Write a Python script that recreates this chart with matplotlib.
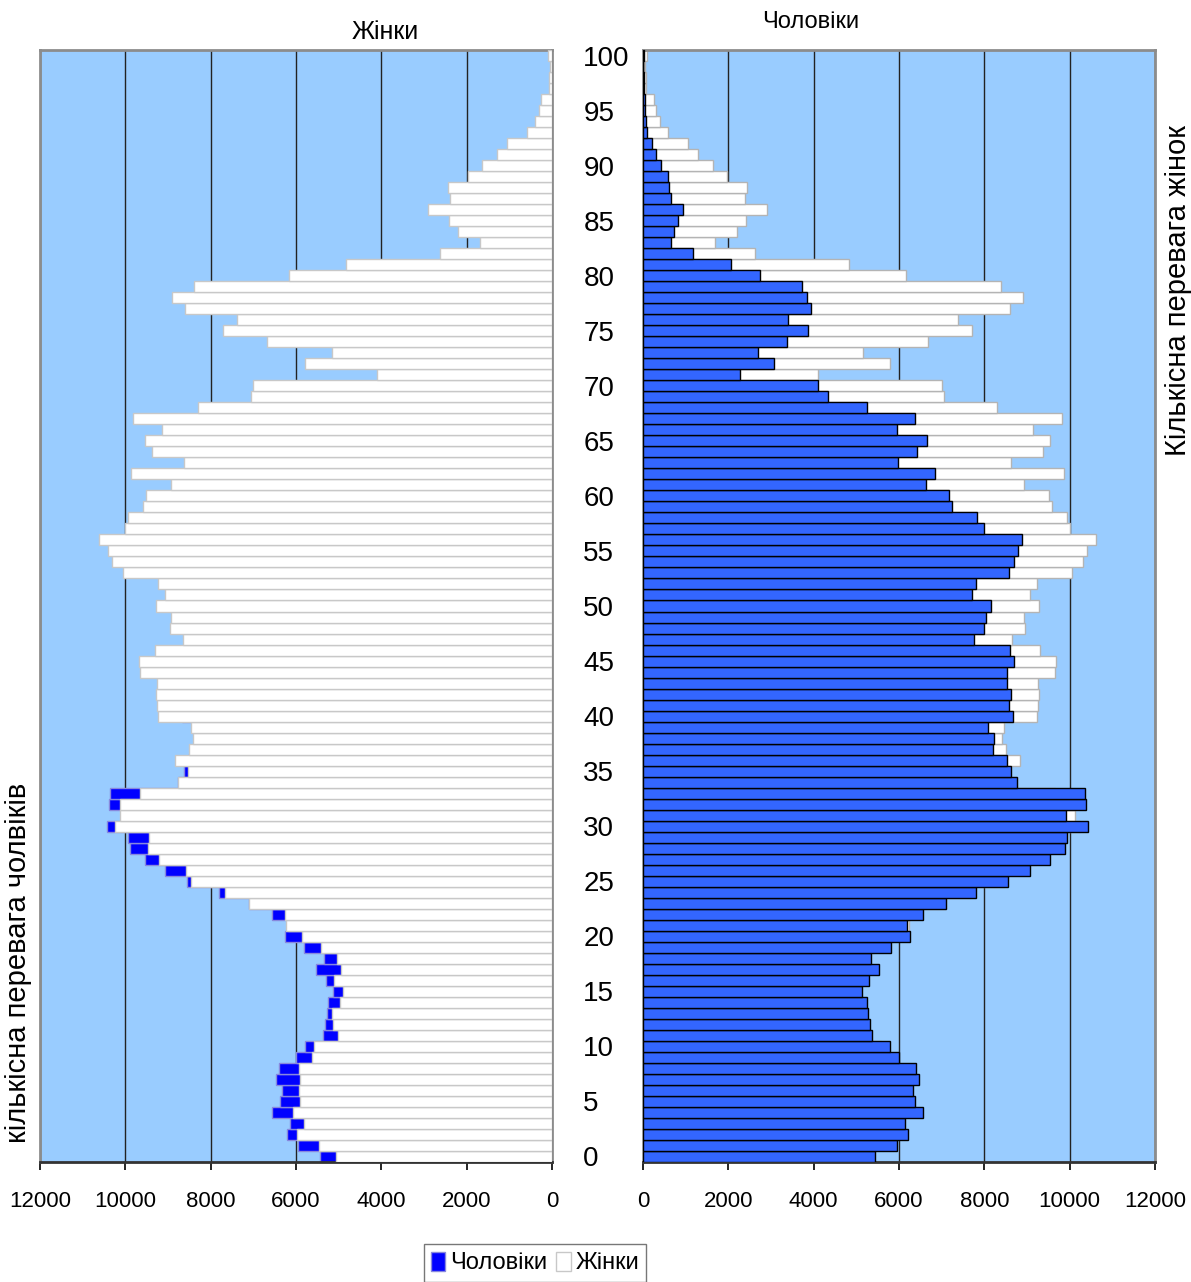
import matplotlib
matplotlib.use("Agg")
import matplotlib.pyplot as plt
from matplotlib.patches import Patch

plt.rcParams['font.family'] = ['Liberation Sans', 'DejaVu Sans']

# вік 0..100
ages = list(range(101))

# чоловіки за віком
men = [5433, 5949, 6215, 6145, 6560, 6372, 6325, 6474, 6395, 5996,
       5793, 5362, 5315, 5268, 5245, 5135, 5292, 5527, 5339, 5808,
       6262, 6192, 6560, 7092, 7812, 8564, 9080, 9542, 9902, 9926,
       10435, 9910, 10388, 10356, 8760, 8619, 8540, 8204, 8227, 8094,
       8673, 8587, 8634, 8540, 8540, 8697, 8603, 7765, 7992, 8047,
       8165, 7711, 7797, 8587, 8705, 8799, 8893, 8000, 7836, 7249,
       7163, 6630, 6842, 5973, 6419, 6654, 5949, 6380, 5253, 4345,
       4110, 2270, 3069, 2685, 3374, 3875, 3397, 3937, 3844, 3726,
       2732, 2059, 1182, 650, 736, 830, 947, 665, 611, 587,
       431, 313, 219, 102, 78, 55, 39, 31, 16, 10, 16]

# жінки за віком
women = [5062, 5465, 5980, 5806, 6067, 5901, 5925, 5901, 5925, 5616,
         5576, 5006, 5125, 5165, 4974, 4903, 5117, 4951, 5046, 5410,
         5854, 6230, 6266, 7110, 7660, 8460, 8578, 9204, 9466, 9450,
         10234, 10121, 10123, 9656, 8770, 8523, 8830, 8509, 8423, 8462,
         9229, 9253, 9276, 9253, 9652, 9676, 9300, 8658, 8963, 8924,
         9284, 9065, 9237, 10059, 10302, 10411, 10623, 10004, 9942, 9589,
         9527, 8932, 9856, 8626, 9378, 9542, 9143, 9832, 8298, 7053,
         7006, 4094, 5793, 5151, 6670, 7703, 7382, 8603, 8908, 8392,
         6161, 4830, 2622, 1699, 2192, 2411, 2912, 2395, 2434, 1965,
         1644, 1299, 1065, 595, 399, 313, 266, 60, 70, 40, 94]

xticks = [0, 2000, 4000, 6000, 8000, 10000, 12000]
age_ticks = list(range(0, 101, 5))

bg = '#99CCFF'
fig = plt.figure(figsize=(11.91, 12.82), dpi=100)
ax1 = fig.add_axes([40/1191, 120/1282, 512/1191, 1112/1282])
ax2 = fig.add_axes([643/1191, 120/1282, 512/1191, 1112/1282])

# ліва панель: жінки, надлишок чоловіків синім
ax1.set_facecolor(bg)
ax1.barh(ages, men, height=1.0, color='#0000FF', edgecolor='#8888DD', linewidth=1, zorder=2)
ax1.barh(ages, women, height=1.0, color='white', edgecolor='#C8C8C8', linewidth=1, zorder=3)
ax1.set_xlim(12000, 0)

# права панель: чоловіки, надлишок жінок білим
ax2.set_facecolor(bg)
ax2.barh(ages, women, height=1.0, color='white', edgecolor='#B4B4B4', linewidth=1, zorder=2)
ax2.barh(ages, men, height=1.0, color='#3366FF', edgecolor='black', linewidth=1, zorder=3)
ax2.set_xlim(0, 12000)

for ax in (ax1, ax2):
    ax.set_ylim(-0.5, 100.5)
    ax.set_xticks(xticks)
    ax.set_xticklabels([str(v) for v in xticks], fontsize=16)
    ax.tick_params(axis='x', direction='out', length=6, width=1.2, pad=15)
    ax.grid(axis='x', color='#222222', linewidth=1, zorder=1)
    ax.set_axisbelow(True)
    for s in ('top', 'left', 'right'):
        ax.spines[s].set_color('#8C8C8C')
        ax.spines[s].set_linewidth(2)
    ax.spines['bottom'].set_color('#333333')
    ax.spines['bottom'].set_linewidth(2)

ax1.set_yticks([])
ax2.set_yticks(age_ticks)
ax2.set_yticklabels([str(a) for a in age_ticks], fontsize=20, ha='left')
ax2.tick_params(axis='y', length=0, pad=43)

fig.text(385/1191, 1 - 32/1282, 'Жінки', ha='center', va='center', fontsize=18)
fig.text(811/1191, 1 - 22/1282, 'Чоловіки', ha='center', va='center', fontsize=17)

fig.text(1178/1191, 1 - 290/1282, 'Кількісна перевага жінок', rotation=90,
         ha='center', va='center', fontsize=21)
fig.text(18/1191, 1 - 963/1282, 'кількісна перевага чолвіків', rotation=90,
         ha='center', va='center', fontsize=21)

handles = [Patch(facecolor='#0000FF', edgecolor='#8888DD', label='Чоловіки'),
           Patch(facecolor='white', edgecolor='#C8C8C8', label='Жінки')]
fig.legend(handles=handles, loc='center', bbox_to_anchor=(535/1191, 1 - 1263/1282),
           ncol=2, fontsize=17, frameon=True, fancybox=False, edgecolor='#555555',
           handlelength=0.6, handleheight=0.9, handletextpad=0.2, columnspacing=0.4,
           borderpad=0.3)

fig.savefig('out.png', dpi=100)
